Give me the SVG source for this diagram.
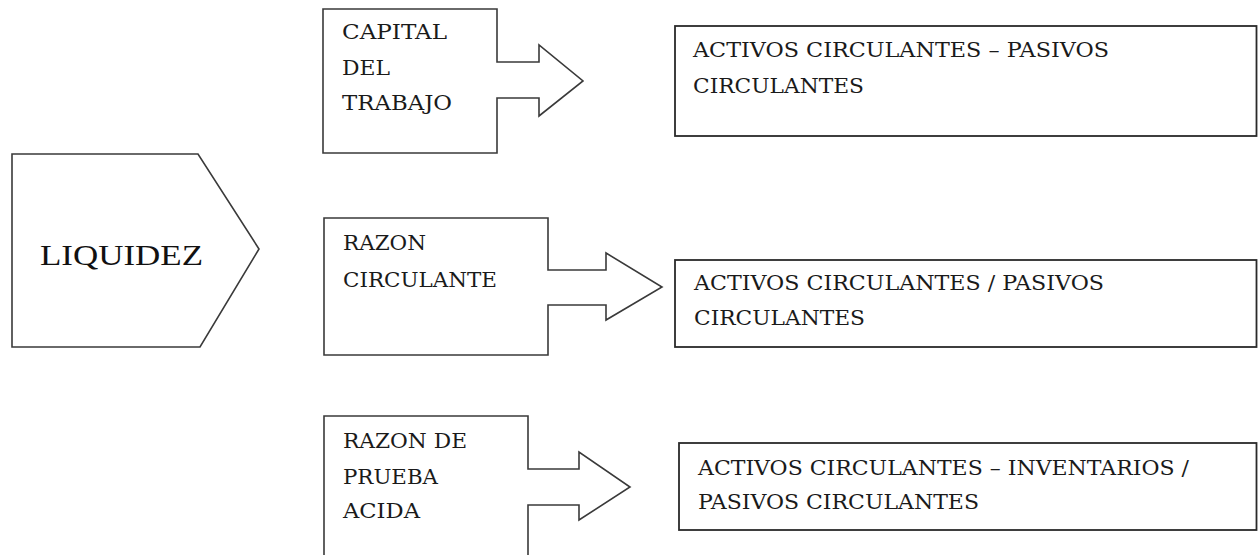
<svg xmlns="http://www.w3.org/2000/svg" width="1258" height="555" viewBox="0 0 1258 555">
  <style>
    .shape { fill: #ffffff; stroke: #3a3a3a; stroke-width: 1.6; stroke-linejoin: miter; }
    .box { fill: #ffffff; stroke: #2a2a2a; stroke-width: 1.8; }
    .t { font-family: "DejaVu Serif", "Liberation Serif", serif; font-size: 20.5px; fill: #1a1a1a; }
    .big { font-family: "Liberation Serif", "Times New Roman", serif; font-size: 30px; fill: #111111; }
  </style>
  <rect x="0" y="0" width="1258" height="555" fill="#ffffff"/>

  <g id="liquidez">
    <polygon class="shape" points="12,154 198,154 259,249 200,347 12,347"/>
    <text class="big" x="40" y="265" textLength="163" lengthAdjust="spacingAndGlyphs">LIQUIDEZ</text>
  </g>

  <g id="capital-trabajo">
    <polygon class="shape" points="323,9 497,9 497,62 539,62 539,45 583,81 539,116 539,98 497,98 497,153 323,153"/>
    <text class="t" x="342" y="39" textLength="105" lengthAdjust="spacingAndGlyphs">CAPITAL</text>
    <text class="t" x="342" y="75" textLength="48" lengthAdjust="spacingAndGlyphs">DEL</text>
    <text class="t" x="342" y="110" textLength="110" lengthAdjust="spacingAndGlyphs">TRABAJO</text>
  </g>

  <g id="razon-circulante">
    <polygon class="shape" points="324,218 548,218 548,270 606,270 606,253 662,287 606,320 606,305 548,305 548,355 324,355"/>
    <text class="t" x="343" y="250" textLength="83" lengthAdjust="spacingAndGlyphs">RAZON</text>
    <text class="t" x="343" y="287" textLength="154" lengthAdjust="spacingAndGlyphs">CIRCULANTE</text>
  </g>

  <g id="razon-prueba-acida">
    <polygon class="shape" points="324,416 528,416 528,469 579,469 579,452 630,487 579,520 579,505 528,505 528,562 324,562"/>
    <text class="t" x="343" y="448" textLength="124" lengthAdjust="spacingAndGlyphs">RAZON DE</text>
    <text class="t" x="343" y="484" textLength="95" lengthAdjust="spacingAndGlyphs">PRUEBA</text>
    <text class="t" x="343" y="518" textLength="77" lengthAdjust="spacingAndGlyphs">ACIDA</text>
  </g>

  <g id="formula-capital">
    <rect class="box" x="675" y="26" width="581.5" height="110"/>
    <text class="t" x="693" y="57" textLength="416" lengthAdjust="spacingAndGlyphs">ACTIVOS CIRCULANTES – PASIVOS</text>
    <text class="t" x="693" y="93" textLength="171" lengthAdjust="spacingAndGlyphs">CIRCULANTES</text>
  </g>

  <g id="formula-razon">
    <rect class="box" x="675" y="260" width="581.5" height="87"/>
    <text class="t" x="694" y="290" textLength="410" lengthAdjust="spacingAndGlyphs">ACTIVOS CIRCULANTES / PASIVOS</text>
    <text class="t" x="694" y="325" textLength="171" lengthAdjust="spacingAndGlyphs">CIRCULANTES</text>
  </g>

  <g id="formula-acida">
    <rect class="box" x="679" y="443" width="577.5" height="87"/>
    <text class="t" x="698" y="475" textLength="491" lengthAdjust="spacingAndGlyphs">ACTIVOS CIRCULANTES – INVENTARIOS /</text>
    <text class="t" x="698" y="509" textLength="281" lengthAdjust="spacingAndGlyphs">PASIVOS CIRCULANTES</text>
  </g>

  <g id="connectors"></g>
</svg>
